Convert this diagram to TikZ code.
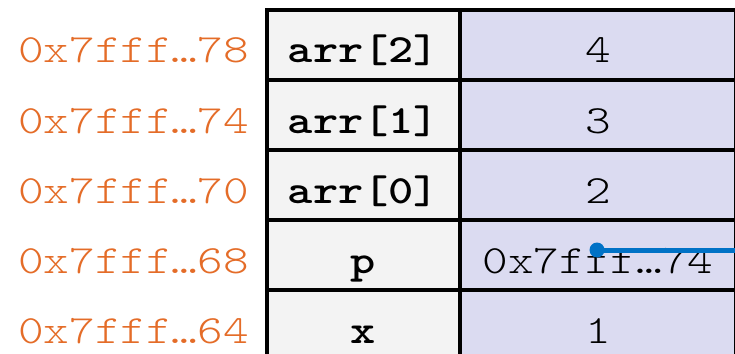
\documentclass[tikz,border=0pt]{standalone}
\usepackage{fontspec}
\setmonofont{lmmonolt10-regular.otf}[FakeStretch=1.22,BoldFont=lmmonolt10-bold.otf,BoldFeatures={FakeStretch=1.2}]
\definecolor{addrorange}{RGB}{228,108,40}
\definecolor{namefill}{RGB}{243,243,243}
\definecolor{valfill}{RGB}{219,219,241}
\definecolor{ptrblue}{RGB}{0,114,198}
\begin{document}
\begin{tikzpicture}[x=1pt,y=-1pt,
  cell/.style={draw=black,line width=4pt,inner sep=0pt,text height=36pt,text depth=0pt,
    font=\fontsize{40}{40}\selectfont\ttfamily},
  namecell/.style={cell,fill=namefill,minimum width=193pt,minimum height=70pt,font=\fontsize{40}{40}\selectfont\ttfamily\bfseries},
  valcell/.style={cell,fill=valfill,minimum width=276pt,minimum height=70pt},
  addr/.style={anchor=base east,text=addrorange,inner sep=0pt,font=\fontsize{40}{40}\selectfont\ttfamily}]
\useasboundingbox (0,0) rectangle (735,353);
% value cells (extend beyond right edge)
\node[valcell] (v2) at (598,45) {4};
\node[valcell] (v1) at (598,115) {3};
\node[valcell] (v0) at (598,185) {2};
\node[valcell] (vp) at (598,255) {0x7fff…74};
\node[valcell] (vx) at (598,325) {1};
% name cells
\node[namecell] (n2) at (363.5,45) {arr[2]};
\node[namecell] (n1) at (363.5,115) {arr[1]};
\node[namecell] (n0) at (363.5,185) {arr[0]};
\node[namecell] (np) at (363.5,255) {p};
\node[namecell] (nx) at (363.5,325) {x};
% addresses
\node[addr] (a2) at (249,63) {0x7fff…78};
\node[addr] (a1) at (249,133) {0x7fff…74};
\node[addr] (a0) at (249,203) {0x7fff…70};
\node[addr] (ap) at (249,273) {0x7fff…68};
\node[addr] (ax) at (249,343) {0x7fff…64};
% pointer
\coordinate (ps) at (597,250);
\coordinate (pe) at (740,250);
\draw[ptrblue,line width=5pt] (ps) -- (pe);
\fill[ptrblue] (ps) circle (7.5pt);
\end{tikzpicture}
\end{document}
